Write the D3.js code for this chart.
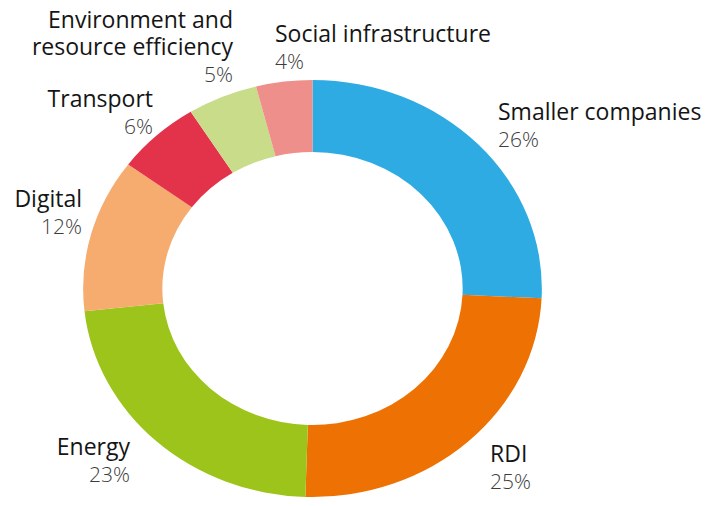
<!DOCTYPE html>
<html>
<head>
<meta charset="utf-8">
<script src="https://cdn.jsdelivr.net/npm/d3@7"></script>
<style>
  body { margin: 0; background: #fff; }
  text { font-family: "Open Sans", sans-serif; }
</style>
</head>
<body>
<div class="chart"></div>
<script>
var categories = ["Smaller companies", "RDI", "Energy", "Digital", "Transport",
    "Environment and|resource efficiency", "Social infrastructure"];
var values = [26, 25, 23, 12, 6, 5, 4];
var colors = ["#2eabe2", "#ee7203", "#9dc41a", "#f6ab6f", "#e3334b", "#c8dc8a", "#ef8f8c"];

// where each label block sits (first baseline), picked by eye
var labelPos = [
    { x: 498, y: 120, anchor: "start" },
    { x: 490, y: 462, anchor: "start" },
    { x: 130, y: 455, anchor: "end" },
    { x: 82, y: 207, anchor: "end" },
    { x: 153, y: 107, anchor: "end" },
    { x: 233, y: 28, anchor: "end" },
    { x: 275, y: 42, anchor: "start" }
];

var width = 719, height = 506;
var cx = 312.5, cy = 288.5, outer = 208.5, inner = 136.5;

var svg = d3.select(".chart")
    .append("svg")
    .attr("width", width)
    .attr("height", height);

var pie = d3.pie().sort(null).value(d => d.value);
var arc = d3.arc().innerRadius(inner).outerRadius(outer);

var data = categories.map((c, i) => ({ name: c, value: values[i], color: colors[i] }));

svg.append("g")
    .attr("transform", "translate(" + cx + "," + cy + ") scale(1.1,1)")
    .selectAll("path")
    .data(pie(data))
    .enter()
    .append("path")
    .attr("d", arc)
    .attr("fill", d => d.data.color);

var labels = svg.append("g")
    .selectAll("text")
    .data(data)
    .enter()
    .append("text")
    .attr("text-anchor", (d, i) => labelPos[i].anchor)
    .attr("x", (d, i) => labelPos[i].x)
    .attr("y", (d, i) => labelPos[i].y);

labels.each(function (d, i) {
    var t = d3.select(this);
    var lines = d.name.split("|");
    lines.forEach((l, j) => {
        t.append("tspan")
            .attr("x", labelPos[i].x)
            .attr("dy", j == 0 ? 0 : 27)
            .attr("font-size", 23)
            .attr("fill", "#151515")
            .text(l);
    });
    t.append("tspan")
        .attr("x", labelPos[i].x)
        .attr("dy", 27)
        .attr("font-size", 21)
        .attr("font-weight", 300)
        .attr("fill", "#3c3c3c")
        .text(d.value + "%");
});
</script>
</body>
</html>
